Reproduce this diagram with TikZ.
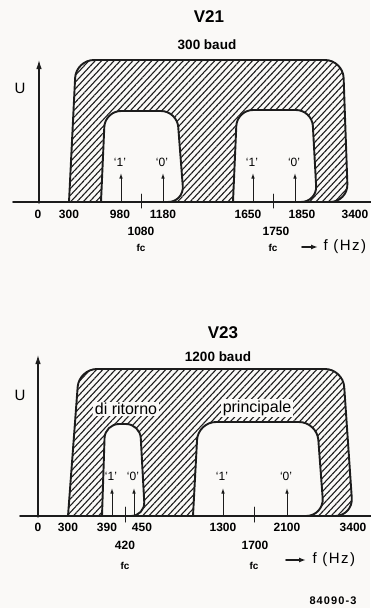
\documentclass[tikz,border=0pt]{standalone}
\usepackage{fontspec}
\setmainfont{Liberation Sans}
\newfontfamily\spacedfont[LetterSpace=10]{Liberation Sans}
\usetikzlibrary{arrows.meta,patterns.meta}
\definecolor{paper}{HTML}{FAF9F7}
\definecolor{ink}{HTML}{1C1C1C}

\begin{document}
\begin{tikzpicture}[x=1pt,y=-1pt,line cap=round,line join=round,
  outline/.style={ink,line width=1.9pt},
  hatch/.style={pattern={Lines[angle=47,distance=4.6pt,line width=1.1pt]},pattern color=ink},
  axisline/.style={ink,line width=1.8pt},
  uaxis/.style={ink,line width=1.1pt,-{Latex[length=9pt,width=5.5pt]}},
  carrier/.style={ink,line width=1pt,-{Latex[length=5.5pt,width=3.6pt]}},
  hzarrow/.style={ink,line width=1.6pt,-{Latex[length=7pt,width=5pt]}},
  fctick/.style={ink,line width=1pt},
  title/.style={font=\bfseries\fontsize{17}{17}\selectfont},
  baud/.style={font=\bfseries\fontsize{13.5}{14}\selectfont},
  freq/.style={font=\bfseries\fontsize{12}{12}\selectfont},
  fclabel/.style={font=\bfseries\fontsize{10}{10}\selectfont},
  bit/.style={font=\fontsize{12}{12}\selectfont},
  band/.style={font=\fontsize{16}{16}\selectfont,fill=paper,inner sep=1.5pt},
  unit/.style={font=\spacedfont\fontsize{15}{15}\selectfont}]
  \path[use as bounding box] (0,0) rectangle (370,608);
  \fill[paper] (0,0) rectangle (370,608);

  % V21: one hatched band with two open channels standing on the axis
  \node[title] (v21) at (209,17) {V21};
  \node[baud] (v21baud) at (207,45) {300 baud};
  \draw[outline,hatch,even odd rule]
    (69,202) [rounded corners=18] -- (76,60) -- (343,60) -- (348,202) [sharp corners] -- cycle
    (101,202) [rounded corners=16] -- (105,111) -- (177,111) -- (184,202) [sharp corners] -- cycle
    (233,202) [rounded corners=16] -- (237,110) -- (312,110) -- (317,202) [sharp corners] -- cycle;
  \coordinate (xl21) at (13,202);
  \coordinate (xr21) at (372,202);
  \coordinate (o21) at (39,203);
  \coordinate (u21) at (39,60);
  \draw[axisline] (xl21) -- (xr21);
  \draw[uaxis] (o21) -- (u21);
  \node[unit] (ulab21) at (20,88) {U};
  \foreach \x/\b [count=\k] in {121/1,163/0,253/1,295/0}{
    \coordinate (cb21\k) at (\x,202);
    \coordinate (ct21\k) at (\x,173);
    \draw[carrier] (cb21\k) -- (ct21\k);
    \node[bit] (bit21\k) at (\x-1,162) {‘\b’};
  }
  \foreach \x [count=\k] in {141,273}{
    \coordinate (ta21\k) at (\x,194);
    \coordinate (tb21\k) at (\x,208);
    \draw[fctick] (ta21\k) -- (tb21\k);
  }
  \foreach \x/\t [count=\k] in {38/0,69/300,120/980,163/1180,248/1650,302/1850,355/3400}
    \node[freq] (f21\k) at (\x,214) {\t};
  \node[freq] (fa21) at (141,231) {1080};
  \node[fclabel] (fca21) at (141,248) {fc};
  \node[freq] (fb21) at (276,231) {1750};
  \node[fclabel] (fcb21) at (273,248) {fc};
  \coordinate (hs21) at (302,247);
  \coordinate (he21) at (318,247);
  \draw[hzarrow] (hs21) -- (he21);
  \node[unit,anchor=west] (hz21) at (320,247) {f (Hz)};

  % V23: narrow return channel and wide main channel
  \node[title] (v23) at (223,333) {V23};
  \node[baud] (v23baud) at (218,357) {1200 baud};
  \draw[outline,hatch,even odd rule]
    (68,516) [rounded corners=18] -- (79,369) -- (343,369) -- (353,516) [sharp corners] -- cycle
    (102,516) [rounded corners=14] -- (105,424) -- (140,424) -- (145,516) [sharp corners] -- cycle
    (193,516) [rounded corners=18] -- (198,422) -- (317,422) -- (324,516) [sharp corners] -- cycle;
  \node[band] (ritorno) at (126,409) {di ritorno};
  \node[band] (principale) at (257,408) {principale};
  \coordinate (xl23) at (20,516);
  \coordinate (xr23) at (372,516);
  \coordinate (o23) at (38,517);
  \coordinate (u23) at (38,355);
  \draw[axisline] (xl23) -- (xr23);
  \draw[uaxis] (o23) -- (u23);
  \node[unit] (ulab23) at (20,395) {U};
  \foreach \x/\b [count=\k] in {112/1,134/0,223/1,287/0}{
    \coordinate (cb23\k) at (\x,516);
    \coordinate (ct23\k) at (\x,488);
    \draw[carrier] (cb23\k) -- (ct23\k);
    \node[bit] (bit23\k) at (\x-1,476) {‘\b’};
  }
  \foreach \x [count=\k] in {125,254}{
    \coordinate (ta23\k) at (\x,507);
    \coordinate (tb23\k) at (\x,522);
    \draw[fctick] (ta23\k) -- (tb23\k);
  }
  \foreach \x/\t [count=\k] in {38/0,68/300,107/390,142/450,223/1300,287/2100,353/3400}
    \node[freq] (f23\k) at (\x,527) {\t};
  \node[freq] (fa23) at (125,545) {420};
  \node[fclabel] (fca23) at (125,566) {fc};
  \node[freq] (fb23) at (255,545) {1700};
  \node[fclabel] (fcb23) at (254,566) {fc};
  \coordinate (hs23) at (286,560);
  \coordinate (he23) at (306,560);
  \draw[hzarrow] (hs23) -- (he23);
  \node[unit,anchor=west] (hz23) at (309,560) {f (Hz)};

  \node[font=\spacedfont\bfseries\fontsize{11}{11}\selectfont] (code) at (333,601) {84090-3};
\end{tikzpicture}
\end{document}
